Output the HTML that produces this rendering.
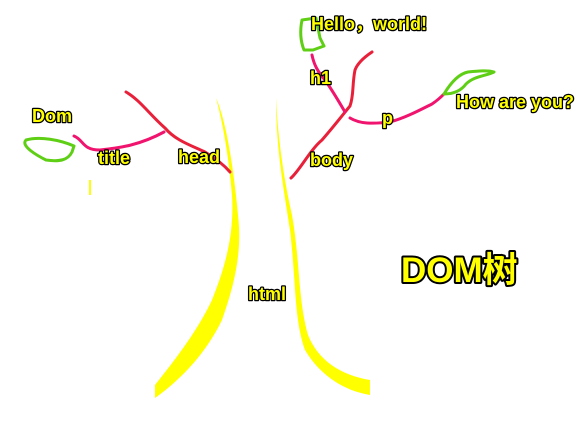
<!DOCTYPE html>
<html><head><meta charset="utf-8"><style>
html,body{margin:0;padding:0;background:#fff;}
svg{display:block}
text{font-family:"Liberation Sans","Noto Sans CJK SC",sans-serif;font-weight:bold;fill:#ffff00;stroke:#000;stroke-width:2.6px;paint-order:stroke;stroke-linejoin:round}
</style></head><body>
<svg width="580" height="424" viewBox="0 0 580 424">
<rect width="580" height="424" fill="#fff"/>
<g fill="#ffff00">
<path d="M216,98 C226,120 234,170 238,215 C242,250 236,280 222,320 C205,355 180,380 155,398 L155,385 C175,360 198,330 212,300 C228,260 234,230 232,195 C228,150 222,120 216,98 Z"/>
<path d="M276,98 C278,140 284,180 292,215 C300,260 298,300 308,335 C318,360 340,375 370,380 L370,395 C340,390 318,372 305,350 C294,320 296,280 290,230 C284,190 276,150 276,98 Z"/>
<rect x="89" y="180" width="2" height="15"/>
</g>
<g fill="none" stroke-linecap="round" stroke-linejoin="round" stroke-width="3">
<path stroke="#e8203a" d="M126,92 C140,100 150,115 165,128 C175,140 190,145 205,152 C215,158 224,165 230,172"/>
<path stroke="#f0146e" d="M74,136 C84,140 82,150 100,150 C120,148 140,145 164,132"/>
<path stroke="#e8203a" d="M291,178 C300,170 310,150 322,140 C335,125 345,112 350,106 C354,95 352,85 355,70 C358,62 366,56 372,52"/>
<path stroke="#f0146e" d="M345,112 C338,100 332,90 325,80 C318,72 314,65 312,55"/>
<path stroke="#f0146e" d="M350,118 C360,124 372,124 390,122 C405,118 420,110 432,104 C438,100 442,96 444,94"/>
<path stroke="#5fcf15" d="M74,146 C60,140 40,136 26,140 C20,146 38,156 46,160 C60,162 68,160 72,152 Z"/>
<path stroke="#5fcf15" d="M302,20 L316,18 L320,38 L324,46 L313,50 L304,50 C300,40 300,30 302,20 Z"/>
<path stroke="#5fcf15" d="M444,94 C450,84 458,74 468,72 C478,71 488,70 494,72 C486,76 474,76 466,84 C460,92 452,94 444,94 Z"/>
</g>
<text x="311" y="30" font-size="18">Hello，world!</text>
<text x="310" y="84" font-size="18">h1</text>
<text x="456" y="108" font-size="18">How are you?</text>
<text x="382" y="124" font-size="18">p</text>
<text x="32" y="122" font-size="18">Dom</text>
<text x="98" y="164" font-size="18">title</text>
<text x="178" y="163" font-size="18">head</text>
<text x="310" y="166" font-size="18">body</text>
<text x="248" y="300" font-size="18">html</text>
<text x="401" y="282" font-size="35" style="stroke-width:4px">DOM树</text>
</svg>
</body></html>
